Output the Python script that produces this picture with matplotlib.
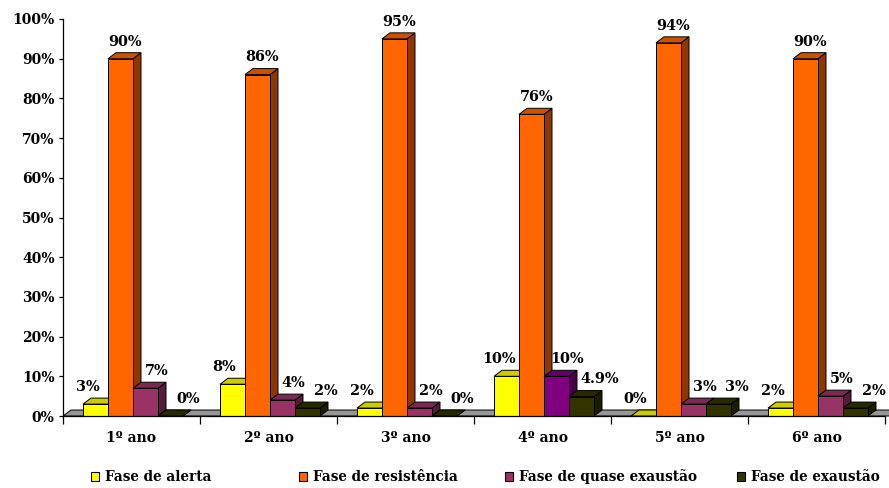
import matplotlib
matplotlib.use('Agg')
import matplotlib.pyplot as plt
from matplotlib.patches import Polygon, Patch
from matplotlib.colors import to_rgb

# data
anos = ['1º ano', '2º ano', '3º ano', '4º ano', '5º ano', '6º ano']
alerta = [3, 8, 2, 10, 0, 2]
resistencia = [90, 86, 95, 76, 94, 90]
quase_exaustao = [7, 4, 2, 10, 3, 5]
exaustao = [0, 2, 0, 4.9, 3, 2]
fases = ['Fase de alerta', 'Fase de resistência',
         'Fase de quase exaustão', 'Fase de exaustão']

cores = ['#FFFF00', '#FF6600', '#993366', '#333300']
cores_quase = ['#993366', '#993366', '#993366', '#800080', '#993366', '#993366']
# horizontal nudge of the value labels (pixels) for each series
desloc_rot = [-8, 5, 11, 18]
# left edge (pixels) of each legend entry
pos_leg = [91, 299, 505, 737]

plt.rcParams['font.family'] = ['DejaVu Serif']
plt.rcParams['font.weight'] = 'bold'

W, H = 889, 488
fig = plt.figure(figsize=(W / 100, H / 100), dpi=100)
x0, x1, y0, y1 = 63, 885, 416, 19   # pixel box of the plot area
ax = fig.add_axes([x0 / W, (H - y0) / H, (x1 - x0) / W, (y0 - y1) / H])
ax.set_xlim(0, 6)
ax.set_ylim(0, 100)

px_x = 6 / (x1 - x0)      # data units per pixel
px_y = 100 / (y0 - y1)
ddx, ddy = 8 * px_x, 6 * px_y   # 3d depth offset
larg = 25 * px_x
ini = 20 * px_x


def shade(c, f):
    r, g, b = to_rgb(c)
    return (r * f, g * f, b * f)


# floor
ax.add_patch(Polygon([(0, 0), (6.2, 0), (6.2 + ddx, ddy), (ddx, ddy)],
                     closed=True, fc='#969696', ec='k', lw=0.7, zorder=1,
                     clip_on=False))

series = [alerta, resistencia, quase_exaustao, exaustao]
z = 2
for i in range(len(anos)):
    for s, vals in enumerate(series):
        v = vals[i]
        cor = cores_quase[i] if s == 2 else cores[s]
        x = i + ini + s * larg
        # side and top faces
        ax.add_patch(Polygon([(x + larg, 0), (x + larg + ddx, ddy),
                              (x + larg + ddx, v + ddy), (x + larg, v)],
                             closed=True, fc=shade(cor, 0.55), ec='k', lw=0.7,
                             zorder=z, clip_on=False))
        ax.add_patch(Polygon([(x, v), (x + larg, v), (x + larg + ddx, v + ddy),
                              (x + ddx, v + ddy)],
                             closed=True, fc=shade(cor, 0.8), ec='k', lw=0.7,
                             zorder=z, clip_on=False))
        b = ax.bar(x, v, width=larg, align='edge', color=cor, edgecolor='k',
                   lw=0.7, zorder=z + 0.5)
        b[0].set_clip_on(False)
        ax.annotate(f'{v:g}%', (x + larg / 2, v), xytext=(desloc_rot[s] * 0.72, 9.5),
                    textcoords='offset points', ha='center', va='baseline',
                    fontsize=10.4, fontweight='bold', zorder=50,
                    annotation_clip=False)
        z += 1

for sp in ['top', 'right']:
    ax.spines[sp].set_visible(False)
ax.spines['left'].set_linewidth(0.9)
ax.spines['bottom'].set_linewidth(0.9)
ax.spines['bottom'].set_zorder(60)

ax.set_yticks(range(0, 101, 10))
ax.set_yticklabels([f'{t}%' for t in range(0, 101, 10)], fontsize=10,
                   fontweight='bold')
ax.tick_params(axis='y', direction='out', length=3, width=0.9, pad=3)

ax.set_xticks([i + 0.5 for i in range(6)])
ax.set_xticklabels(anos, fontsize=10, fontweight='bold')
ax.set_xticks(range(7), minor=True)
ax.tick_params(axis='x', which='major', length=0, pad=11)
ax.tick_params(axis='x', which='minor', direction='out', length=6, width=0.9)

for cor, nome, px in zip(cores, fases, pos_leg):
    leg = fig.legend([Patch(fc=cor, ec='k', lw=0.8)], [nome], loc='center left',
                     bbox_to_anchor=(px / W, 1 - 477 / H), frameon=False,
                     prop={'weight': 'bold', 'size': 9.8},
                     handlelength=0.6, handleheight=0.6, handletextpad=0.45,
                     borderaxespad=0, borderpad=0)

fig.savefig('out.png', dpi=100, facecolor='white')
